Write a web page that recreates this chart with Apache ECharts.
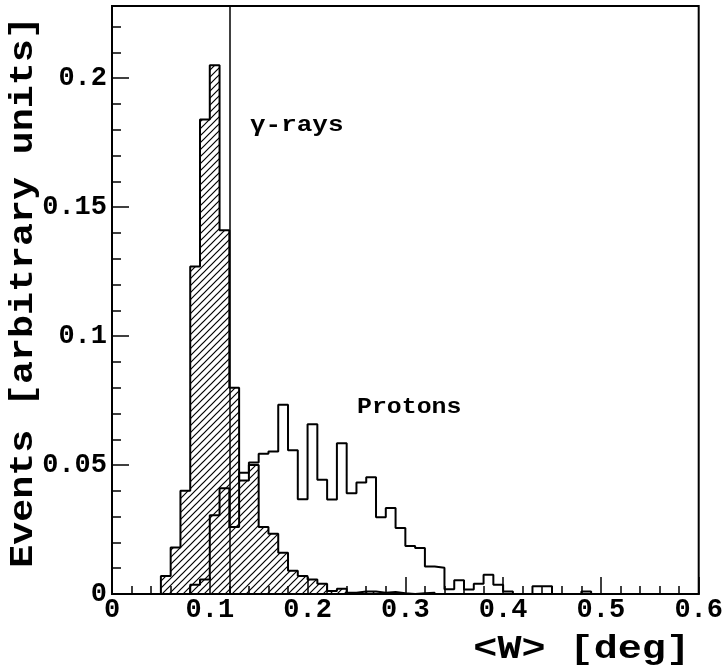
<!DOCTYPE html>
<html><head><meta charset="utf-8">
<script src="https://cdn.jsdelivr.net/npm/echarts@6/dist/echarts.min.js"></script>
<style>html,body{margin:0;padding:0;background:#fff}#c{width:726px;height:669px}</style>
</head><body><div id="c"></div>
<script>
// ---- data ----
const binWidth = 0.01;
const gammaStart = 0.05;
const gammaValues = [0.007, 0.018, 0.040, 0.127, 0.184, 0.205, 0.141, 0.080, 0.044, 0.050,
  0.026, 0.0234, 0.016, 0.009, 0.007, 0.0056, 0.004, 0.0012, 0.002, 0.0005,
  0.001, 0.001, 0.0005, 0.0008, 0.0003, 0, 0.0003, 0.0005];
const protonStart = 0.08;
const protonValues = [0.0036, 0.0056, 0.0305, 0.041, 0.026, 0.047, 0.051, 0.0544, 0.0553, 0.0734,
  0.0557, 0.0367, 0.0658, 0.0443, 0.0366, 0.0585, 0.0391, 0.0432, 0.0453, 0.0298,
  0.0333, 0.0256, 0.0186, 0.0178, 0.0107, 0.0102, 0.0018, 0.0053, 0.0017, 0.004,
  0.0075, 0.0036, 0.001, 0, 0, 0.003, 0.003, 0, 0, 0, 0.001];
const cutValue = 0.12;
const xMin = 0, xMax = 0.6, xStep = 0.1;
const yMin = 0, yMax = 0.228, yStep = 0.05, yMinorStep = 0.01;
const xTitle = '<W> [deg]';
const yTitle = 'Events [arbitrary units]';
const gammaLabel = 'γ-rays';
const protonLabel = 'Protons';

// ---- build step outlines ----
function stepPoints(start, vals) {
  const pts = [[start, 0]];
  vals.forEach((v, i) => pts.push([+(start + i * binWidth).toFixed(4), v]));
  pts.push([+(start + vals.length * binWidth).toFixed(4), 0]);
  return pts;
}

// hatch pattern ///
const pc = document.createElement('canvas');
pc.width = 7; pc.height = 7;
const g = pc.getContext('2d');
g.strokeStyle = '#000'; g.lineWidth = 1.2;
g.beginPath();
g.moveTo(-1, 8); g.lineTo(8, -1);
g.moveTo(-8, 8); g.lineTo(1, -1);
g.moveTo(6, 8); g.lineTo(15, -1);
g.stroke();

const FONT = 'Liberation Mono';
const chart = echarts.init(document.getElementById('c'));
chart.setOption({
  animation: false,
  backgroundColor: '#fff',
  grid: { left: 112, top: 6, width: 590, height: 588, show: true, borderColor: '#000', borderWidth: 2, backgroundColor: 'transparent' },
  xAxis: {
    type: 'value', min: xMin, max: xMax, interval: xStep,
    axisLine: { lineStyle: { color: '#000', width: 2 } },
    axisTick: { inside: true, length: 17, lineStyle: { color: '#000', width: 1.5 } },
    minorTick: { show: true, splitNumber: 5, length: 8, lineStyle: { color: '#000', width: 1.5 } },
    splitLine: { show: false },
    axisLabel: { color: '#000', fontFamily: FONT, fontWeight: 'bold', fontSize: 27, margin: 3,
      formatter: v => (Math.abs(v) < 1e-9 ? '0' : String(+v.toFixed(2))) }
  },
  yAxis: [{
    type: 'value', min: yMin, max: yMax, interval: yStep,
    axisLine: { lineStyle: { color: '#000', width: 2 } },
    axisTick: { inside: true, length: 17, lineStyle: { color: '#000', width: 1.5 } },
    splitLine: { show: false },
    axisLabel: { color: '#000', fontFamily: FONT, fontWeight: 'bold', fontSize: 27, margin: 5,
      formatter: v => { const r = Math.round(v / yStep); if (Math.abs(r * yStep - v) > 1e-6) return ''; return r === 0 ? '0' : String(+v.toFixed(2)); } }
  }, {
    type: 'value', min: yMin, max: yMax, interval: yMinorStep, position: 'left',
    axisLine: { show: false },
    axisTick: { inside: true, length: 9, lineStyle: { color: '#000', width: 1.5 } },
    splitLine: { show: false },
    axisLabel: { show: false }
  }],
  series: [{
    type: 'line', step: 'end', symbol: 'none', yAxisIndex: 0,
    data: stepPoints(gammaStart, gammaValues),
    lineStyle: { color: '#000', width: 2 },
    areaStyle: { color: { image: pc, repeat: 'repeat' }, opacity: 1 },
    z: 2
  }, {
    type: 'line', step: 'end', symbol: 'none', yAxisIndex: 0,
    data: stepPoints(protonStart, protonValues),
    lineStyle: { color: '#000', width: 2 },
    z: 3,
    markLine: { symbol: 'none', silent: true, label: { show: false },
      lineStyle: { color: '#000', width: 1.5, type: 'solid' },
      data: [{ xAxis: cutValue }] }
  }],
  graphic: [
    { type: 'text', x: 250, y: 125, scaleX: 1.18, style: { text: gammaLabel, font: 'bold 22px "Liberation Mono"', fill: '#000', verticalAlign: 'middle' } },
    { type: 'text', x: 357, y: 407, scaleX: 1.13, style: { text: protonLabel, font: 'bold 22px "Liberation Mono"', fill: '#000', verticalAlign: 'middle' } },
    { type: 'text', x: 24, y: 292, rotation: Math.PI / 2, scaleX: 1.16,
      style: { text: yTitle, font: 'bold 33px "Liberation Mono"', fill: '#000', align: 'center', verticalAlign: 'middle' } },
    { type: 'text', x: 690, y: 649, scaleX: 1.18,
      style: { text: xTitle, font: 'bold 34px "Liberation Mono"', fill: '#000', align: 'right', verticalAlign: 'middle' } }
  ]
});
</script></body></html>
